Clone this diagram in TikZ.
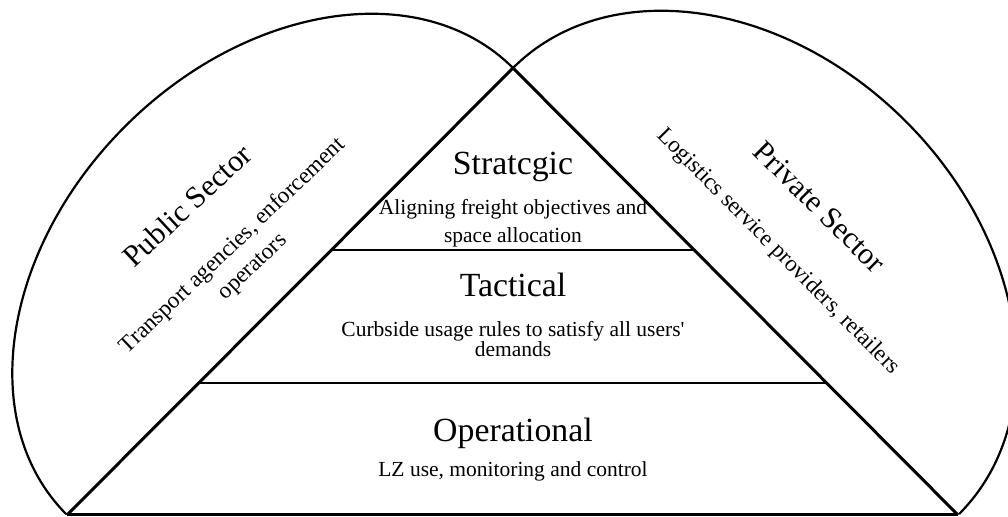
\documentclass[tikz,border=0pt]{standalone}
\usepackage{fontspec}
\setmainfont{Liberation Serif}
\usetikzlibrary{calc}

\tikzset{
  side/.style={line width=1.5pt},
  level/.style={line width=1.2pt},
  sector/.style={line width=1.1pt},
  title/.style={font=\fontsize{16.9}{20}\selectfont},
  sub/.style={font=\fontsize{10.75}{14}\selectfont},
  sectitle/.style={font=\fontsize{15.2}{18}\selectfont},
  secsub/.style={font=\fontsize{11.55}{14.5}\selectfont},
}

\begin{document}
\begin{tikzpicture}[x=0.5pt,y=-0.5pt]
\useasboundingbox (0,0) rectangle (1008,517);

\coordinate (apex) at (513,68);
\coordinate (bl) at (67,515);
\coordinate (br) at (958,515);
\coordinate (l1) at ($(bl)!0.593!(apex)$);
\coordinate (r1) at ($(br)!0.593!(apex)$);
\coordinate (l2) at ($(bl)!0.295!(apex)$);
\coordinate (r2) at ($(br)!0.295!(apex)$);

% sectors
\draw[sector] (apex) [rotate=45] arc[start angle=0, end angle=-180, x radius=315.7, y radius=233];
\draw[sector] (apex) [rotate=135] arc[start angle=0, end angle=180, x radius=315.4, y radius=240];

% pyramid
\draw[side] (bl) -- (apex) -- (br);
\draw[side] (bl) -- (br);
\draw[level] (l1) -- (r1);
\draw[level] (l2) -- (r2);

% levels
\node at (513,175) (strat)[title, anchor=base] {Stratcgic};
\node at (513,223) (strat-txt)[sub, align=center] {Aligning freight objectives and\\space allocation};
\node at (513,297) (tact)[title, anchor=base] {Tactical};
\node at (513,339) (tact-txt)[sub, align=center, font=\fontsize{10.75}{9.8}\selectfont] {Curbside usage rules to satisfy all users\textquotesingle\\demands};
\node at (513,442) (oper)[title, anchor=base] {Operational};
\node at (513,477) (oper-txt)[sub, anchor=base] {LZ use, monitoring and control};

% sector labels
\node at (194,213) (pub)[sectitle, anchor=base, rotate=43] {Public Sector};
\node at (243,256.6) (pub-txt)[secsub, align=center, rotate=43.6] {Transport agencies, enforcement\\operators};
\node at (812.8,214) (priv)[sectitle, anchor=base, rotate=-44.6] {Private Sector};
\node at (774.2,255.8) (priv-txt)[secsub, anchor=base, rotate=-45.4] {Logistics service providers, retailers};
\end{tikzpicture}
\end{document}
